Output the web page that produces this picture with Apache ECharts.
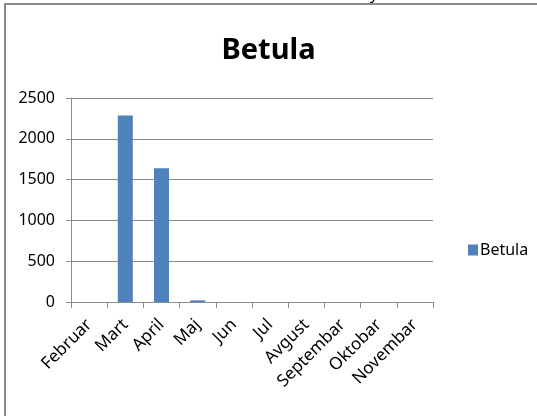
<!DOCTYPE html>
<html>
<head>
<meta charset="utf-8">
<script src="https://cdn.jsdelivr.net/npm/echarts@6/dist/echarts.min.js"></script>
<style>
html,body{margin:0;padding:0;background:#fff;}
#chart{width:537px;height:416px;}
</style>
</head>
<body>
<div id="chart"></div>
<script>
var categories = ['Februar','Mart','April','Maj','Jun','Jul','Avgust','Septembar','Oktobar','Novembar'];
var betulaValues = [0, 2285, 1640, 20, 0, 0, 0, 0, 0, 0];
var yTicks = [0, 500, 1000, 1500, 2000, 2500];
var seriesName = 'Betula';
var titleText = 'Betula';

var FONT = '"Noto Sans", "Open Sans", "Liberation Sans", sans-serif';
var chart = echarts.init(document.getElementById('chart'));
chart.setOption({
  animation: false,
  backgroundColor: '#fff',
  title: {
    text: titleText,
    left: 'center',
    top: 31,
    textStyle: {fontFamily: FONT, fontSize: 29, fontWeight: 'bold', color: '#000'}
  },
  legend: {
    data: [seriesName],
    orient: 'vertical',
    left: 463,
    top: 237,
    icon: 'rect',
    itemWidth: 10,
    itemHeight: 11,
    itemGap: 5,
    textStyle: {fontFamily: FONT, fontSize: 16, color: '#000', padding: [0,0,0,-3]}
  },
  grid: {left: 71, right: 104, top: 98, bottom: 114, containLabel: false},
  xAxis: {
    type: 'category',
    data: categories,
    boundaryGap: true,
    axisLine: {lineStyle: {color: '#8c8c8c', width: 1}},
    axisTick: {show: true, alignWithLabel: false, length: 6, lineStyle: {color: '#8c8c8c'}},
    axisLabel: {interval: 0, rotate: 45, margin: 20, fontFamily: FONT, fontSize: 17, color: '#000'}
  },
  yAxis: {
    type: 'value',
    min: yTicks[0],
    max: yTicks[yTicks.length - 1],
    interval: yTicks[1] - yTicks[0],
    axisLine: {show: true, lineStyle: {color: '#8c8c8c', width: 1}},
    axisTick: {show: true, length: 5, lineStyle: {color: '#8c8c8c'}},
    splitLine: {show: true, lineStyle: {color: '#8c8c8c', width: 1}},
    axisLabel: {margin: 16, fontFamily: FONT, fontSize: 16, color: '#000', formatter: function (v) { return String(v); }}
  },
  series: [{
    name: seriesName,
    type: 'bar',
    data: betulaValues,
    barWidth: 15,
    itemStyle: {color: '#4f81bd'}
  }],
  graphic: [
    {type: 'rect', shape: {x: 5, y: 4, width: 600, height: 600}, style: {fill: 'none', stroke: '#8a8a8a', lineWidth: 2}, z: 100},
    {type: 'text', left: 370, top: -14, style: {text: 'y', font: '16px ' + FONT, fill: '#000'}}
  ]
});
</script>
</body>
</html>
